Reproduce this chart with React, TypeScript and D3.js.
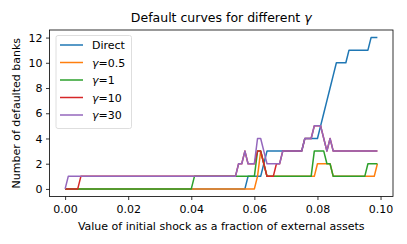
import React, { useEffect, useRef } from 'react';
import * as d3 from 'd3';

// shock grid: 0.000 .. 0.099
const shocks = d3.range(100).map((i) => i / 1000);

const direct = [
  0, 0, 0, 0, 0, 0, 0, 0, 0, 0,
  0, 0, 0, 0, 0, 0, 0, 0, 0, 0,
  0, 0, 0, 0, 0, 0, 0, 0, 0, 0,
  0, 0, 0, 0, 0, 0, 0, 0, 0, 0,
  0, 0, 0, 0, 0, 0, 0, 0, 0, 0,
  0, 0, 0, 0, 0, 0, 0, 0, 1, 1,
  1, 1, 1, 2, 3, 3, 3, 3, 3, 3,
  3, 3, 3, 3, 3, 3, 4, 4, 4, 4,
  4, 5, 6, 7, 8, 9, 10, 10, 10, 10,
  11, 11, 11, 11, 11, 11, 11, 12, 12, 12,
];

const gamma05 = [
  0, 0, 0, 0, 0, 0, 0, 0, 0, 0,
  0, 0, 0, 0, 0, 0, 0, 0, 0, 0,
  0, 0, 0, 0, 0, 0, 0, 0, 0, 0,
  0, 0, 0, 0, 0, 0, 0, 0, 0, 0,
  0, 0, 0, 0, 0, 0, 0, 0, 0, 0,
  0, 0, 0, 0, 0, 0, 0, 0, 0, 0,
  0, 1, 3, 2, 1, 1, 1, 1, 1, 1,
  1, 1, 1, 1, 1, 1, 1, 1, 1, 1,
  2, 2, 2, 2, 2, 1, 1, 1, 1, 1,
  1, 1, 1, 1, 1, 1, 1, 1, 1, 2,
];

const gamma1 = [
  0, 0, 0, 0, 0, 0, 0, 0, 0, 0,
  0, 0, 0, 0, 0, 0, 0, 0, 0, 0,
  0, 0, 0, 0, 0, 0, 0, 0, 0, 0,
  0, 0, 0, 0, 0, 0, 0, 0, 0, 0,
  0, 1, 1, 1, 1, 1, 1, 1, 1, 1,
  1, 1, 1, 1, 1, 1, 1, 1, 1, 1,
  1, 3, 3, 2, 1, 1, 1, 1, 1, 1,
  1, 1, 1, 1, 1, 1, 1, 1, 1, 3,
  3, 3, 3, 2, 2, 1, 1, 1, 1, 1,
  1, 1, 1, 1, 1, 1, 2, 2, 2, 2,
];

const gamma10 = [
  0, 0, 0, 0, 0, 1, 1, 1, 1, 1,
  1, 1, 1, 1, 1, 1, 1, 1, 1, 1,
  1, 1, 1, 1, 1, 1, 1, 1, 1, 1,
  1, 1, 1, 1, 1, 1, 1, 1, 1, 1,
  1, 1, 1, 1, 1, 1, 1, 1, 1, 1,
  1, 1, 1, 1, 1, 2, 2, 3, 2, 2,
  2, 3, 3, 2, 1, 1, 1, 2, 2, 3,
  3, 3, 3, 3, 3, 3, 4, 4, 4, 5,
  5, 5, 4, 3, 4, 3, 3, 3, 3, 3,
  3, 3, 3, 3, 3, 3, 3, 3, 3, 3,
];

const gamma30 = [
  0, 1, 1, 1, 1, 1, 1, 1, 1, 1,
  1, 1, 1, 1, 1, 1, 1, 1, 1, 1,
  1, 1, 1, 1, 1, 1, 1, 1, 1, 1,
  1, 1, 1, 1, 1, 1, 1, 1, 1, 1,
  1, 1, 1, 1, 1, 1, 1, 1, 1, 1,
  1, 1, 1, 1, 1, 2, 2, 3, 2, 2,
  2, 4, 4, 3, 2, 2, 2, 2, 2, 3,
  3, 3, 3, 3, 3, 3, 4, 4, 4, 5,
  5, 5, 4, 3, 4, 3, 3, 3, 3, 3,
  3, 3, 3, 3, 3, 3, 3, 3, 3, 3,
];

const seriesLabels = ['Direct', '0.5', '1', '10', '30'];
const seriesValues = [direct, gamma05, gamma1, gamma10, gamma30];
const COLORS = ['#1f77b4', '#ff7f0e', '#2ca02c', '#d62728', '#9467bd'];

const xTicks = [0, 0.02, 0.04, 0.06, 0.08, 0.1];
const yTicks = [0, 2, 4, 6, 8, 10, 12];

const FONT = '"DejaVu Sans", sans-serif';

const App: React.FC = () => {
  const svgRef = useRef<SVGSVGElement>(null);

  useEffect(() => {
    if (!svgRef.current) return;
    const svg = d3.select(svgRef.current);
    svg.selectAll('*').remove();

    const left = 49.5;
    const right = 393;
    const top = 30;
    const bottom = 196.5;

    // matplotlib-style 5% margins around the data
    const xMax = d3.max(shocks) as number;
    const xPad = xMax * 0.05;
    const yMax = d3.max(seriesValues.flat()) as number;
    const yPad = yMax * 0.05;

    const xScale = d3.scaleLinear().domain([-xPad, xMax + xPad]).range([left, right]);
    const yScale = d3.scaleLinear().domain([-yPad, yMax + yPad]).range([bottom, top]);

    const xAxis = svg
      .append('g')
      .attr('transform', `translate(0,${bottom})`)
      .call(
        d3
          .axisBottom(xScale)
          .tickValues(xTicks)
          .tickFormat(d3.format('.2f'))
          .tickSize(3.5)
          .tickPadding(5)
          .tickSizeOuter(0)
      );
    xAxis.select('.domain').remove();
    xAxis.selectAll('line').attr('stroke', '#000').attr('stroke-width', 0.8);
    xAxis
      .selectAll('text')
      .attr('fill', '#000')
      .attr('font-family', FONT)
      .attr('font-size', '11px');

    const yAxis = svg
      .append('g')
      .attr('transform', `translate(${left},0)`)
      .call(
        d3
          .axisLeft(yScale)
          .tickValues(yTicks)
          .tickFormat(d3.format('d'))
          .tickSize(3.5)
          .tickPadding(3.5)
          .tickSizeOuter(0)
      );
    yAxis.select('.domain').remove();
    yAxis.selectAll('line').attr('stroke', '#000').attr('stroke-width', 0.8);
    yAxis
      .selectAll('text')
      .attr('fill', '#000')
      .attr('font-family', FONT)
      .attr('font-size', '11px');

    const line = d3
      .line<number>()
      .x((_, i) => xScale(shocks[i]))
      .y((d) => yScale(d));

    seriesValues.forEach((vals, k) => {
      svg
        .append('path')
        .attr('d', line(vals))
        .attr('fill', 'none')
        .attr('stroke', COLORS[k])
        .attr('stroke-width', 1.5)
        .attr('stroke-linejoin', 'round');
    });

    svg
      .append('rect')
      .attr('x', left)
      .attr('y', top)
      .attr('width', right - left)
      .attr('height', bottom - top)
      .attr('fill', 'none')
      .attr('stroke', '#000')
      .attr('stroke-width', 0.8);

    svg
      .append('text')
      .attr('x', (left + right) / 2)
      .attr('y', 21.5)
      .attr('text-anchor', 'middle')
      .attr('font-family', FONT)
      .attr('font-size', '12.5px')
      .text('Default curves for different ')
      .append('tspan')
      .attr('font-style', 'italic')
      .text('γ');

    svg
      .append('text')
      .attr('x', (left + right) / 2)
      .attr('y', 230)
      .attr('text-anchor', 'middle')
      .attr('font-family', FONT)
      .attr('font-size', '11px')
      .text('Value of initial shock as a fraction of external assets');

    svg
      .append('text')
      .attr('transform', `translate(20,${(top + bottom) / 2}) rotate(-90)`)
      .attr('text-anchor', 'middle')
      .attr('font-family', FONT)
      .attr('font-size', '11px')
      .text('Number of defaulted banks');

    // legend
    const legend = svg.append('g').attr('transform', 'translate(56,35.5)');
    legend
      .append('rect')
      .attr('width', 75.5)
      .attr('height', 93)
      .attr('rx', 2)
      .attr('fill', '#fff')
      .attr('fill-opacity', 0.8)
      .attr('stroke', '#d5d5d5')
      .attr('stroke-width', 0.8);

    seriesLabels.forEach((label, k) => {
      const yy = 9.5 + k * 17.5;
      legend
        .append('line')
        .attr('x1', 4)
        .attr('x2', 27)
        .attr('y1', yy)
        .attr('y2', yy)
        .attr('stroke', COLORS[k])
        .attr('stroke-width', 1.5);
      const t = legend
        .append('text')
        .attr('x', 36)
        .attr('y', yy + 4)
        .attr('font-family', FONT)
        .attr('font-size', '11px');
      if (k === 0) {
        t.text(label);
      } else {
        t.append('tspan').attr('font-style', 'italic').text('γ');
        t.append('tspan').text(`=${label}`);
      }
    });
  }, []);

  return (
    <svg
      ref={svgRef}
      width={407}
      height={244}
      style={{ position: 'absolute', left: 0, top: 0, background: '#fff' }}
    />
  );
};

export default App;
